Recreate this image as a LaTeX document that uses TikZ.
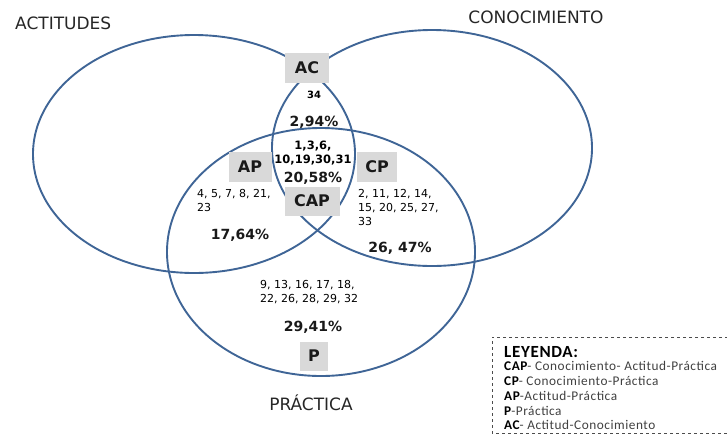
\documentclass[tikz,border=0pt]{standalone}
\usepackage{fontspec}
\setmainfont{DejaVu Sans}
\newfontfamily\legfont[LetterSpace=4]{Carlito}
\definecolor{vennline}{HTML}{3F6596}
\definecolor{boxgray}{HTML}{D9D9D9}
\definecolor{legtext}{HTML}{404040}
\tikzset{
  venn/.style={draw=vennline, line width=1.9pt},
  setname/.style={inner sep=0pt, font=\fontsize{17}{20}\selectfont, text=black!85},
  regbox/.style={fill=boxgray, inner sep=0pt, font=\bfseries\fontsize{16}{20}\selectfont, text=black!90},
  pct/.style={inner sep=0pt, font=\bfseries\fontsize{14}{16}\selectfont, text=black!90},
  ids/.style={inner sep=0pt, align=left, anchor=west, font=\fontsize{11}{14}\selectfont},
  legline/.style={inner sep=0pt, anchor=west, text=legtext, font=\legfont\fontsize{13.3}{15}\selectfont}
}
\begin{document}
\begin{tikzpicture}[x=1pt, y=-1pt]
  \useasboundingbox (0,0) rectangle (727,437);

  % the three sets
  \draw [venn] (194,154) ellipse [x radius=161, y radius=119];
  \draw [venn] (432,148) ellipse [x radius=160, y radius=118];
  \draw [venn] (321,252) ellipse [x radius=154, y radius=124];

  \node [setname, anchor=west] (actitudes) at (15,23) {ACTITUDES};
  \node [setname] (conocimiento) at (536,17) {CONOCIMIENTO};
  \node [setname] (practica) at (311,403) {PRÁCTICA};

  % region labels
  \node [regbox, minimum width=44pt, minimum height=30pt] (ac) at (307,68) {AC};
  \node [regbox, minimum width=43pt, minimum height=30pt] (ap) at (250,167) {AP};
  \node [regbox, minimum width=40pt, minimum height=30pt] (cp) at (377,167) {CP};
  \node [regbox, minimum width=55pt, minimum height=29pt] (cap) at (312,201) {CAP};
  \node [regbox, minimum width=28pt, minimum height=29pt] (p) at (314,356) {P};

  % counts and percentages
  \node [inner sep=0pt, font=\bfseries\fontsize{10}{12}\selectfont] (acids) at (314,95) {34};
  \node [pct] (acpct) at (314,122) {2,94\%};
  \node [inner sep=0pt, align=center, font=\bfseries\fontsize{11.5}{14}\selectfont] (capids) at (313,153) {1,3,6,\\10,19,30,31};
  \node [pct] (cappct) at (313,178) {20,58\%};
  \node [ids] (apids) at (197,200) {4, 5, 7, 8, 21,\\23};
  \node [pct] (appct) at (240,235) {17,64\%};
  \node [ids] (cpids) at (358,207) {2, 11, 12, 14,\\15, 20, 25, 27,\\33};
  \node [pct] (cppct) at (400,248) {26, 47\%};
  \node [ids] (pids) at (260,292) {9, 13, 16, 17, 18,\\22, 26, 28, 29, 32};
  \node [pct] (ppct) at (313,327) {29,41\%};

  % legend
  \draw [black!70, dashed, line width=0.9pt] (740,337) -- (492,337) -- (492,433) -- (740,433);
  \node [inner sep=0pt, anchor=west, font=\legfont\bfseries\fontsize{17}{20}\selectfont] (leyenda) at (504,352) {LEYENDA:};
  \node [legline] (leg1) at (504,366) {\textbf{\color{black}CAP}- Conocimiento- Actitud-Práctica};
  \node [legline] (leg2) at (504,381) {\textbf{\color{black}CP}- Conocimiento-Práctica};
  \node [legline] (leg3) at (504,396) {\textbf{\color{black}AP}-Actitud-Práctica};
  \node [legline] (leg4) at (504,411) {\textbf{\color{black}P}-Práctica};
  \node [legline] (leg5) at (504,425) {\textbf{\color{black}AC}- Actitud-Conocimiento};
\end{tikzpicture}
\end{document}
